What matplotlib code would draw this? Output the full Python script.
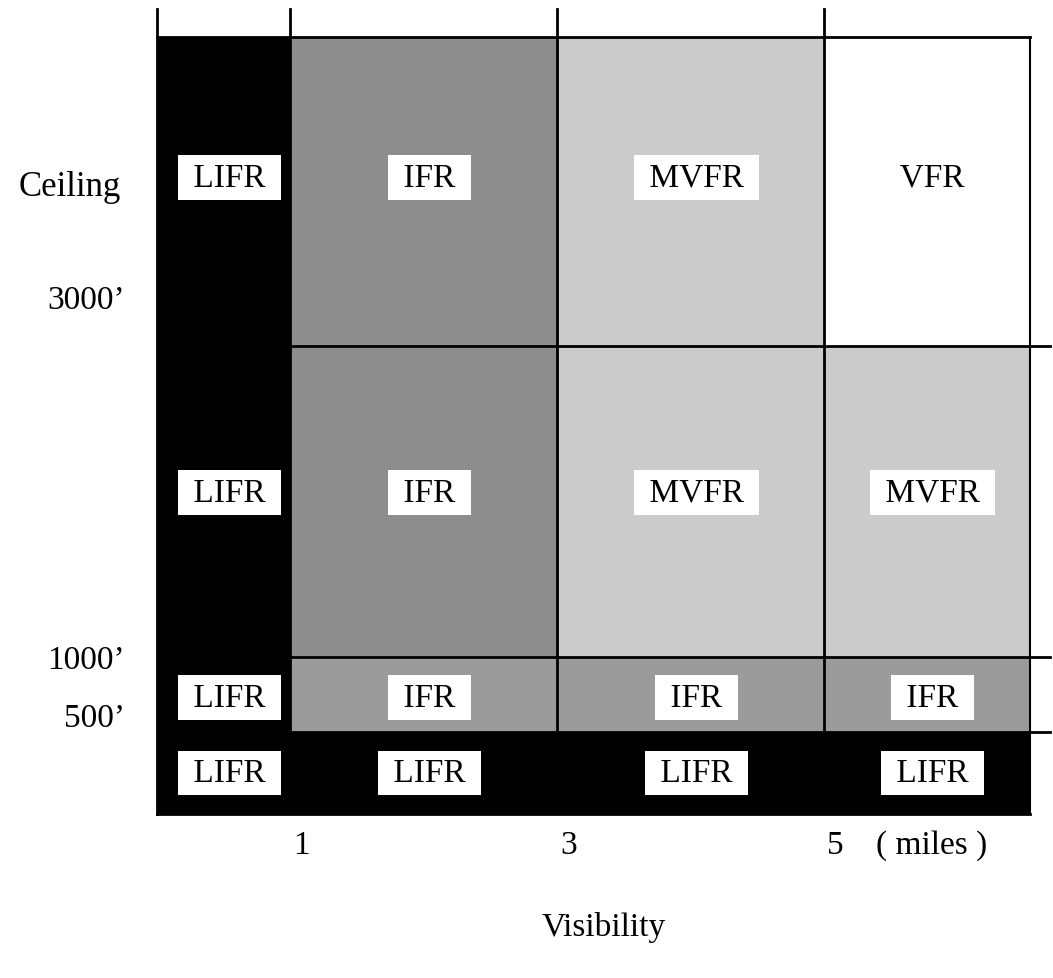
import numpy as np
import matplotlib.pyplot as plt

# visibility boundaries (miles) and ceiling row heights (display units)
vis_edges = [0, 1, 3, 5, 6.54]
row_heights = [0.82, 0.75, 3.11, 3.09]
ceil_edges = np.concatenate([[0], np.cumsum(row_heights)])

# flight category per cell, rows from bottom (<500') to top (>3000')
cells = [
    ["LIFR", "LIFR", "LIFR", "LIFR"],
    ["LIFR", "IFR", "IFR", "IFR"],
    ["LIFR", "IFR", "MVFR", "MVFR"],
    ["LIFR", "IFR", "MVFR", "VFR"],
]
vis_ticks = ["1", "3", "5"]
ceil_ticks = ["500\u2019", "1000\u2019", "3000\u2019"]

colors = {"LIFR": "black", "IFR": "#8d8d8d", "MVFR": "#cbcbcb", "VFR": "white"}
low_ifr = "#9b9b9b"

plt.rcParams['font.family'] = ['Liberation Serif', 'DejaVu Serif']
fig = plt.figure(figsize=(10.53, 9.79), dpi=100)
ax = fig.add_axes([0, 0, 1, 1])
ax.set_xlim(-1.176, 6.712)
ax.set_ylim(-1.64, 8.15)
ax.axis('off')

for r in range(4):
    for c in range(4):
        cat = cells[r][c]
        col = colors[cat]
        if cat == "IFR" and r == 1:
            col = low_ifr
        x0, x1 = vis_edges[c], vis_edges[c + 1]
        y0, y1 = ceil_edges[r], ceil_edges[r + 1]
        ax.bar(x0, y1 - y0, width=x1 - x0, bottom=y0, align='edge',
               color=col, edgecolor='none', zorder=1)
        yc = (y0 + y1) / 2
        if r == 3:
            yc += 0.14
        if r == 2:
            yc += 0.09
        if r == 1:
            yc -= 0.03
        ax.text((x0 + x1) / 2 + 0.04, yc, " " + cat + " ", fontsize=24,
                ha='center', va='center', zorder=5,
                bbox=dict(facecolor='white', edgecolor='none', pad=5))

lw = 2
top = ceil_edges[-1]
over_x = 6.69
over_y = 8.05
# outer frame
ax.plot([0, 0], [0, over_y], color='black', lw=lw, zorder=3)
ax.plot([0, vis_edges[-1]], [top, top], color='black', lw=lw, zorder=3)
ax.plot([0, vis_edges[-1]], [0, 0], color='black', lw=lw, zorder=3)
ax.plot([vis_edges[-1], vis_edges[-1]], [0, top], color='black', lw=1.5, zorder=3)
# vertical dividers
for x in vis_edges[1:-1]:
    ax.plot([x, x], [ceil_edges[1], over_y], color='black', lw=lw, zorder=3)
# horizontal dividers
for y in ceil_edges[1:-1]:
    ax.plot([vis_edges[1], over_x], [y, y], color='black', lw=lw, zorder=3)

# axis texts
ax.text(-0.65, ceil_edges[3] + 1.6, "Ceiling", fontsize=25, ha='center', va='center')
tick_y = [ceil_edges[1] + 0.14, ceil_edges[2] - 0.03, ceil_edges[3] + 0.46]
for lab, x in zip(ceil_ticks, tick_y):
    ax.text(-0.24, x, lab, fontsize=24, ha='right', va='center')
for lab, x in zip(vis_ticks, vis_edges[1:4]):
    ax.text(x + 0.08, -0.15, lab, fontsize=24, ha='center', va='top')
ax.text(5.8, -0.15, "( miles )", fontsize=24, ha='center', va='top')
ax.text(3.35, -0.97, "Visibility", fontsize=24, ha='center', va='top')

plt.savefig('out.png', dpi=100)
